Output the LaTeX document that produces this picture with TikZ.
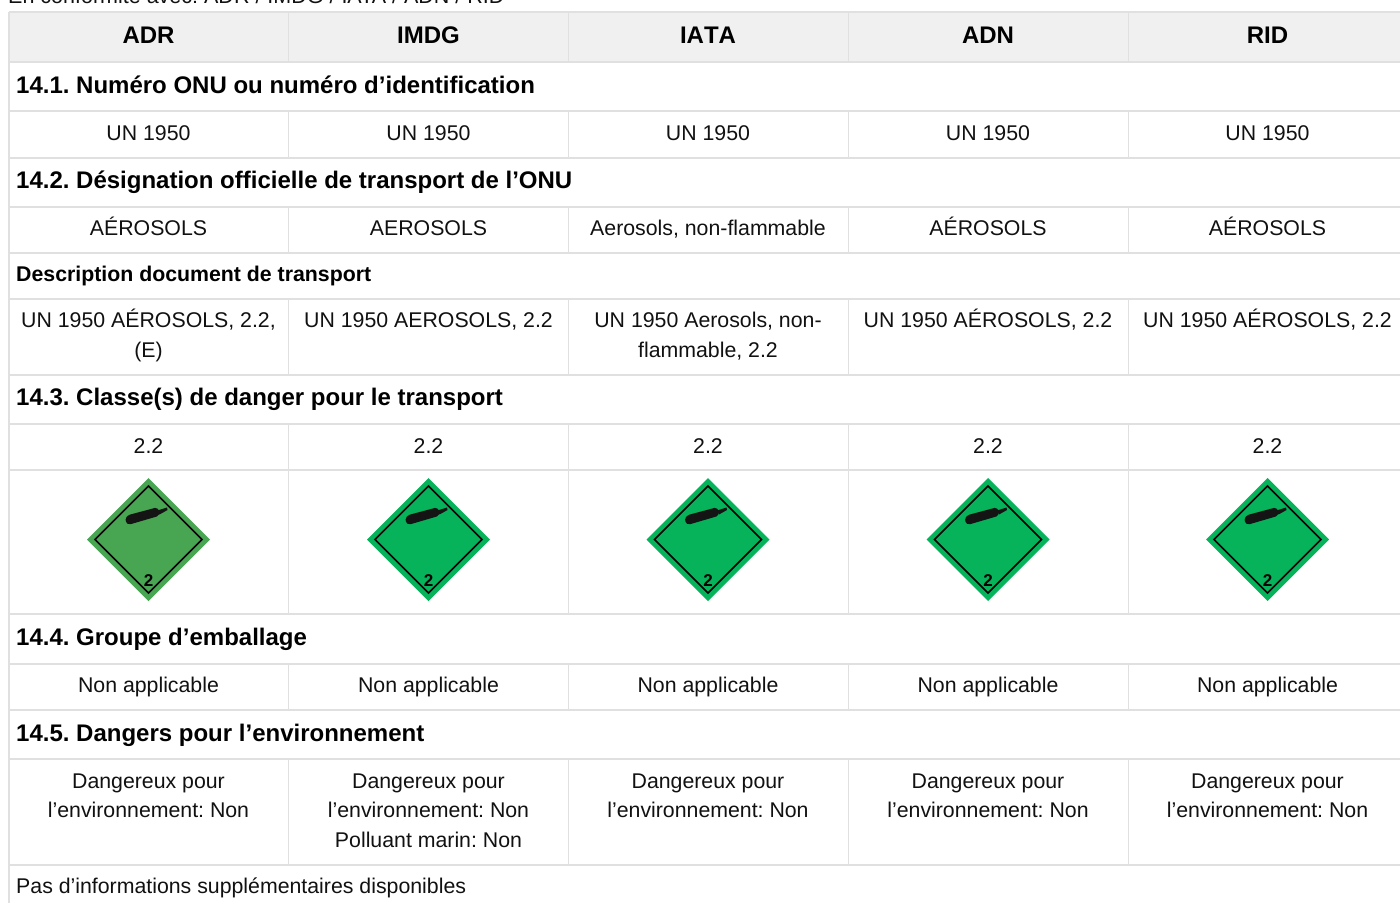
\documentclass[tikz,border=0pt]{standalone}
\usepackage{fontspec}
\setmainfont{Liberation Sans}
\frenchspacing
\definecolor{gridc}{HTML}{E0E0E0}
\definecolor{headc}{HTML}{F0F0F0}
\definecolor{greenA}{HTML}{48A552}
\definecolor{greenB}{HTML}{06B25A}
\definecolor{inkc}{HTML}{111111}
\tikzset{
  x=1pt,y=-1pt,
  gridline/.style={draw=gridc,line width=1.5pt},
  cell/.style={inner sep=0pt,align=center,font=\fontsize{21.3}{29.5}\selectfont,text=inkc,anchor=center},
  linecell/.style={cell,anchor=base},
  headcell/.style={inner sep=0pt,font=\fontsize{24}{29}\bfseries\selectfont,text=black,anchor=base},
  sect/.style={inner sep=0pt,anchor=base west,font=\fontsize{24}{29}\bfseries\selectfont,text=black},
  subsect/.style={inner sep=0pt,anchor=base west,font=\fontsize{21.3}{29}\bfseries\selectfont,text=black},
  plain/.style={inner sep=0pt,anchor=base west,font=\fontsize{21.3}{29}\selectfont,text=inkc},
  pics/placard/.style={code={
    \fill[#1] (0,-61.5) -- (61.5,0) -- (0,61.5) -- (-61.5,0) -- cycle;
    \draw[black,line width=1.6pt,line join=miter] (0,-53.5) -- (53.5,0) -- (0,53.5) -- (-53.5,0) -- cycle;
    \fill[black!92,rounded corners=1.5pt] (-23,-21.5) -- (-20,-24.5) -- (8,-32) -- (11,-28.5) -- (10,-23.5) -- (-19,-15) -- (-22.5,-16.5) -- cycle;
    \fill[black!92] (9,-29) -- (18.5,-32) -- (19,-29.5) -- (11,-25) -- cycle;
    \node[inner sep=0pt,font=\fontsize{17}{17}\bfseries\selectfont,text=black] at (0,41.5) {2};
  }}
}
\begin{document}
\begin{tikzpicture}
\useasboundingbox (0,0) rectangle (1400,903);
\clip (0,0) rectangle (1400,903);
\fill[white] (0,0) rectangle (1400,903);
\fill[headc] (9,12) rectangle (1400,62);
% intro text, cut by the upper edge as in the reference
\node[plain,font=\fontsize{21.5}{29}\selectfont] (intro) at (8,3) {En conformité avec: ADR / IMDG / IATA / ADN / RID};
% grid
\foreach \y in {12,62,111,158,207,253,299,375,424,470,614,664,710,759,865}
  \draw[gridline] (9,\y) -- (1400,\y);
\draw[gridline] (9,12) -- (9,903);
\foreach \x in {288.5,568.5,848.5,1128.5}{
  \draw[gridline] (\x,12) -- (\x,62);
  \draw[gridline] (\x,111) -- (\x,158);
  \draw[gridline] (\x,207) -- (\x,253);
  \draw[gridline] (\x,299) -- (\x,375);
  \draw[gridline] (\x,424) -- (\x,614);
  \draw[gridline] (\x,664) -- (\x,710);
  \draw[gridline] (\x,759) -- (\x,865);
}
% header
\node[headcell] (h1) at (148.5,43.5) {ADR};
\node[headcell] (h2) at (428.5,43.5) {IMDG};
\node[headcell] (h3) at (708,43.5) {\addfontfeature{Kerning=Off}IATA};
\node[headcell] (h4) at (988,43.5) {ADN};
\node[headcell] (h5) at (1267.5,43.5) {RID};
% section headings
\node[sect] (s1) at (16,93) {14.1. Numéro ONU ou numéro d’identification};
\node[sect] (s2) at (16,188) {14.2. Désignation officielle de transport de l’ONU};
\node[subsect] (s2b) at (16,281) {Description document de transport};
\node[sect] (s3) at (16,405) {14.3. Classe(s) de danger pour le transport};
\node[sect] (s4) at (16,645) {14.4. Groupe d’emballage};
\node[sect] (s5) at (16,741) {14.5. Dangers pour l’environnement};
\node[plain] (note) at (16,893) {Pas d’informations supplémentaires disponibles};
% rows
\foreach \x/\n in {148.5/a,428.5/b,708/c,988/d,1267.5/e}{
  \node[linecell] (un\n) at (\x,140.5) {UN 1950};
  \node[linecell] (cl\n) at (\x,453.5) {2.2};
  \node[linecell] (pg\n) at (\x,692.5) {Non applicable};
}
\node[linecell] (na) at (148.5,235.5) {AÉROSOLS};
\node[linecell] (nb) at (428.5,235.5) {AEROSOLS};
\node[linecell] (nc) at (708,235.5) {Aerosols, non-flammable};
\node[linecell] (nd) at (988,235.5) {AÉROSOLS};
\node[linecell] (ne) at (1267.5,235.5) {AÉROSOLS};
\node[cell] (da) at (148.5,335.5) {UN 1950 AÉROSOLS, 2.2,\\(E)};
\node[linecell] (db) at (428.5,327) {UN 1950 AEROSOLS, 2.2};
\node[cell] (dc) at (708,336) {UN 1950 Aerosols, non-\\flammable, 2.2};
\node[linecell] (dd) at (988,327) {UN 1950 AÉROSOLS, 2.2};
\node[linecell] (de) at (1267.5,327) {UN 1950 AÉROSOLS, 2.2};
\node[cell] (ea) at (148.5,796) {Dangereux pour\\l’environnement: Non};
\node[cell] (eb) at (428.5,810.6) {Dangereux pour\\l’environnement: Non\\Polluant marin: Non};
\node[cell] (ec) at (708,796) {Dangereux pour\\l’environnement: Non};
\node[cell] (ed) at (988,796) {Dangereux pour\\l’environnement: Non};
\node[cell] (ee) at (1267.5,796) {Dangereux pour\\l’environnement: Non};
% placards
\pic at (148.5,539.5) {placard=greenA};
\pic at (428.5,539.5) {placard=greenB};
\pic at (708,539.5) {placard=greenB};
\pic at (988,539.5) {placard=greenB};
\pic at (1267.5,539.5) {placard=greenB};
\end{tikzpicture}
\end{document}
